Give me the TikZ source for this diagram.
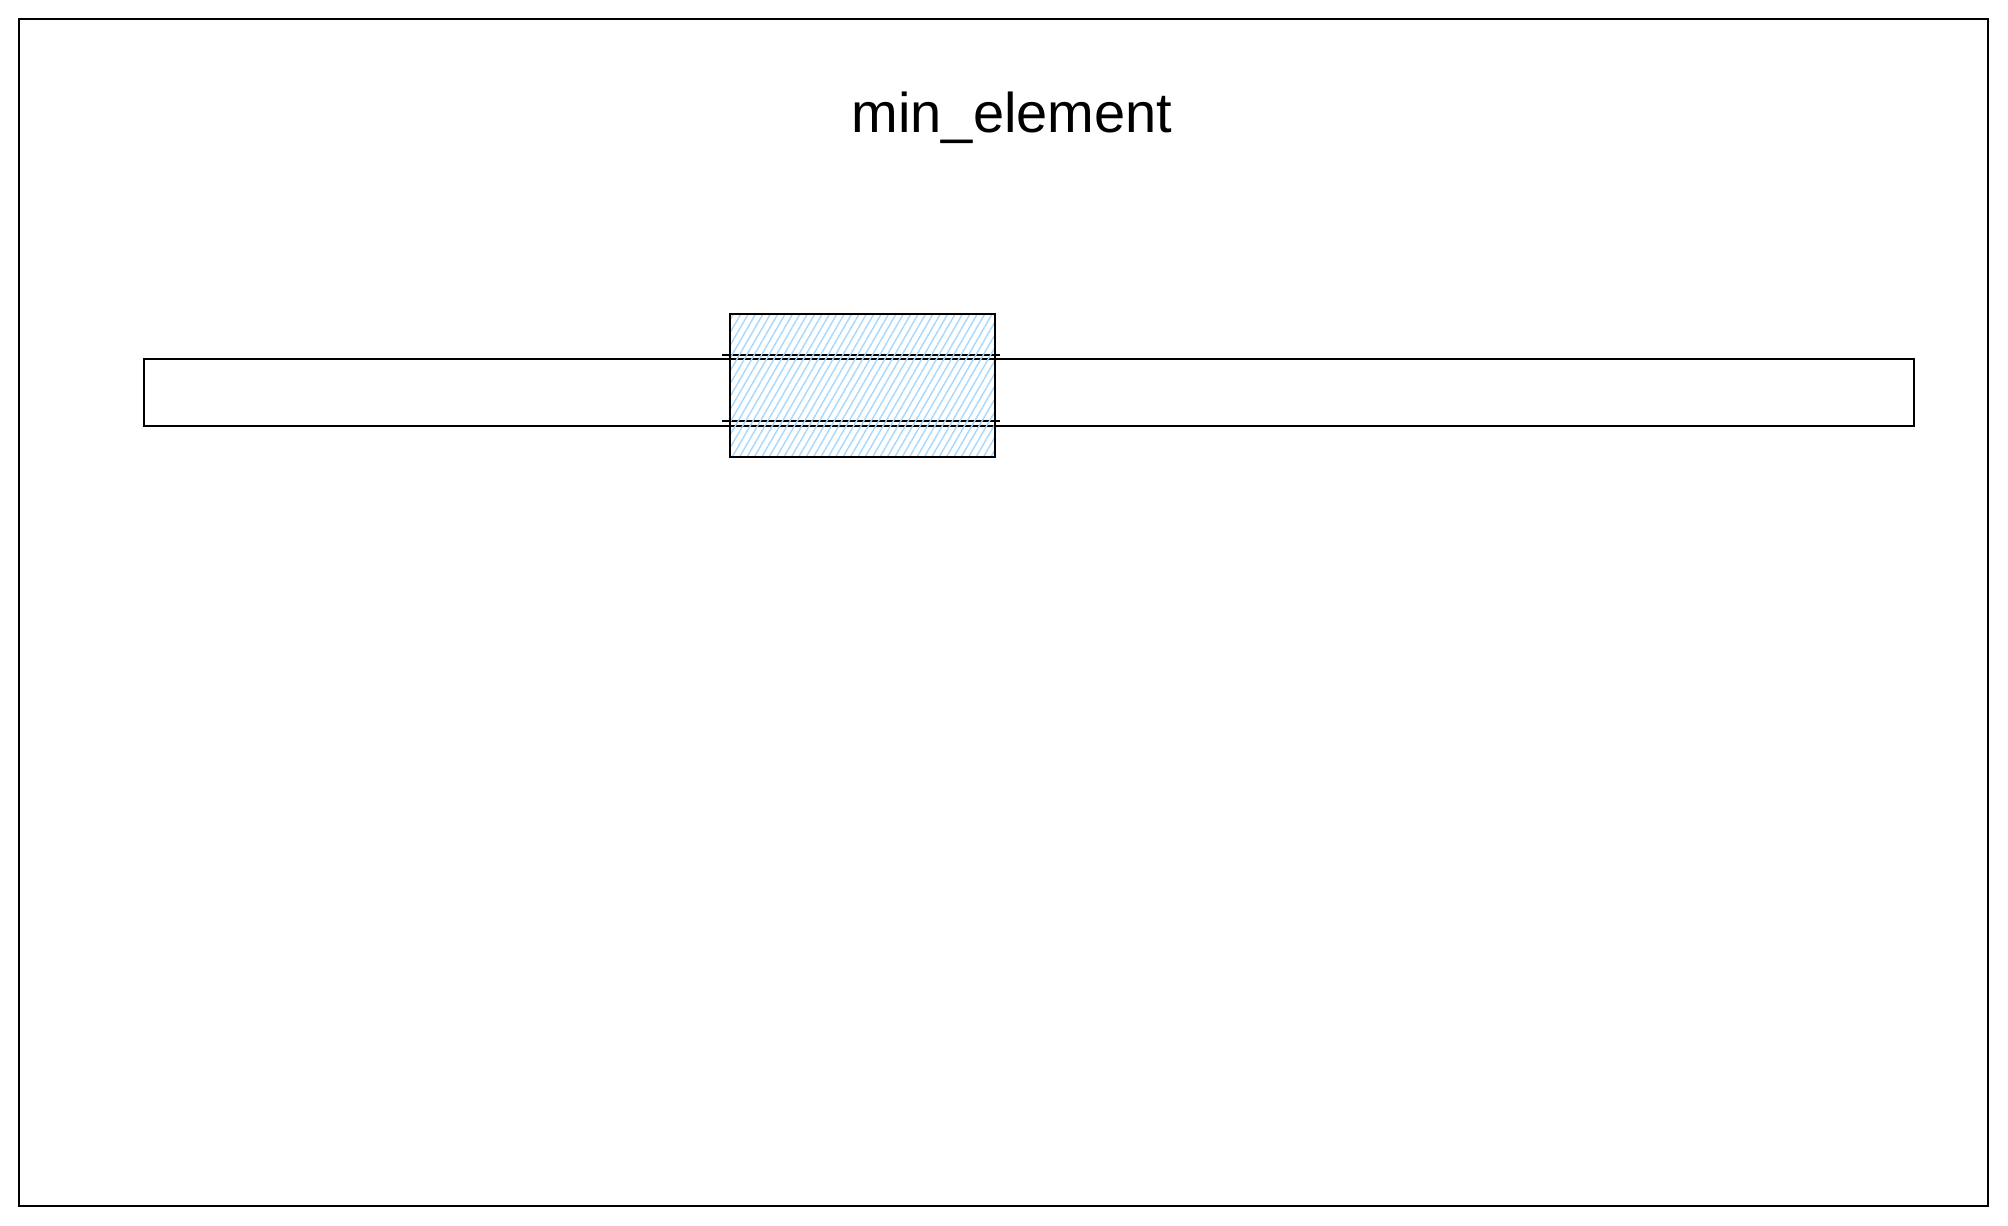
\documentclass[tikz,border=0pt]{standalone}
\usepackage{fontspec}
\setmainfont{Liberation Sans}
\usetikzlibrary{patterns.meta}
\definecolor{hatch}{HTML}{A5D8FF}
\tikzset{
  px/.style={x=0.5pt,y=-0.5pt},
  frameline/.style={draw=black,line width=1pt},
  barline/.style={draw=black,line width=0.9pt},
  hatchbox/.style={pattern={Lines[angle=60,distance=3.2pt,line width=0.7pt]},pattern color=hatch},
}
\begin{document}
\begin{tikzpicture}[px]
\useasboundingbox (0,0) rectangle (2008,1226);
% outer frame
\draw[frameline] (19,19) rectangle (1988,1206);
% title
\node[font=\fontsize{28}{34}\selectfont, anchor=base] (title) at (1012,132) {min\_element};
% long bar
\draw[barline] (144,359) rectangle (1914,426);
\coordinate (ta) at (722,355);
\coordinate (tb) at (1000,355);
\coordinate (ba) at (722,421);
\coordinate (bb) at (1000,421);
\draw[barline] (ta) -- (tb);
\draw[barline] (ba) -- (bb);
% hatched box
\path[hatchbox] (730,314) rectangle (995,457);
\draw[frameline] (730,314) rectangle (995,457);
\end{tikzpicture}
\end{document}
